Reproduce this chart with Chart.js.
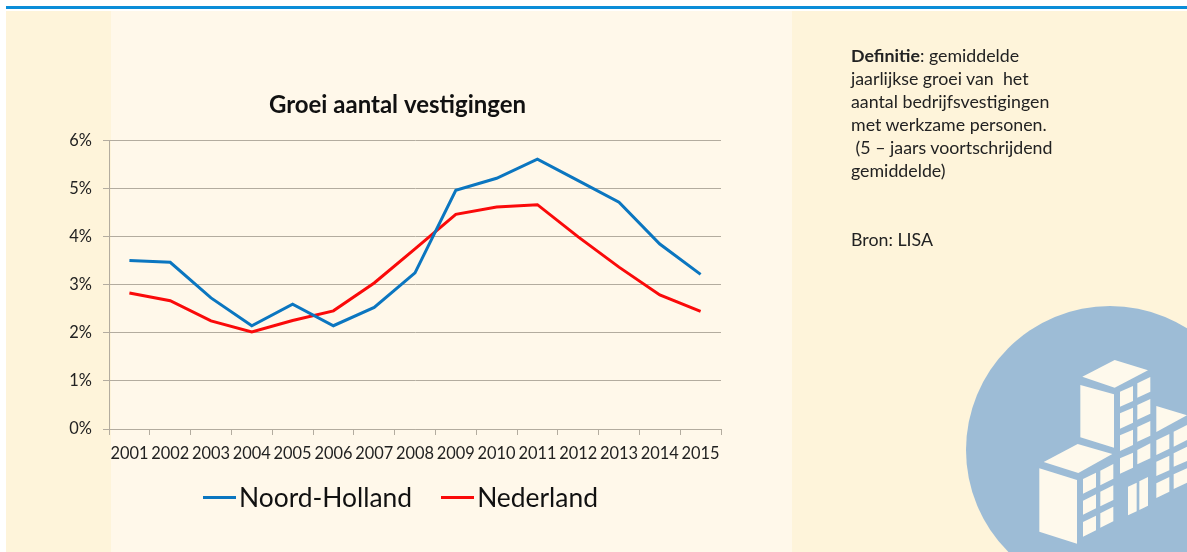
<!DOCTYPE html>
<html lang="nl">
<head>
<meta charset="utf-8">
<title>Groei aantal vestigingen</title>
<script src="https://cdn.jsdelivr.net/npm/chart.js@4/dist/chart.umd.min.js"></script>
<style>
  html, body { margin: 0; padding: 0; background: #fff; }
  #page { position: relative; width: 1187px; height: 552px; overflow: hidden; font-family: Lato, sans-serif; }
  .topline { position: absolute; left: 6px; right: 0; top: 6px; height: 3px; background: #0a8dd8; }
  .strip { position: absolute; top: 11px; bottom: 0; }
  .side { background: #fef4da; }
  .mid { left: 111px; width: 681px; background: #fff8ea; }
  #chart { position: absolute; left: 0; top: 0; }
  #legend { position: absolute; left: 203px; top: 480px; height: 34px; display: flex; align-items: center; gap: 29px; font-size: 26.4px; color: #111; }
  #legend .item { display: flex; align-items: center; gap: 3px; }
  #legend .swatch { width: 33px; height: 3px; }
  #note { position: absolute; left: 851px; top: 44px; width: 300px; font-size: 17.8px; line-height: 23px; color: #222; }
  #note p { margin: 0; }
  #note .bron { margin-top: 46px; }
  #icon { position: absolute; left: 950px; top: 290px; }
</style>
</head>
<body>
<div id="page">
  <div class="topline"></div>
  <div class="strip side" style="left:6px;right:0"></div>
  <div class="strip mid"></div>
  <svg id="icon" width="237" height="262" viewBox="0 0 711 786">
    <circle cx="480" cy="480" r="432" fill="#9dbcd6"/>
    <g fill="#fef9ec">
      <polygon points="397,260 494,210 594,241 494,293"/>
      <polygon points="391,285 492,313 492,473 391,442"/>
      <polygon points="510,305 549,288 549,333 510,350"/>
      <polygon points="562,280 601,261 601,305 562,323"/>
      <polygon points="510,370 549,353 549,398 510,416"/>
      <polygon points="562,345 601,327 601,371 562,389"/>
      <polygon points="510,436 549,419 549,465 510,483"/>
      <polygon points="562,411 601,393 601,437 562,455"/>
      <polygon points="510,505 549,488 549,533 510,551"/>
      <polygon points="562,480 601,460 601,505 562,523"/>
      <polygon points="534,590 560,578 560,664 534,676"/>
      <polygon points="568,574 594,561 594,647 568,660"/>
      <polygon points="619,348 711,376 619,426"/>
      <polygon points="619,451 658,432 658,476 619,495"/>
      <polygon points="671,425 711,405 711,450 671,470"/>
      <polygon points="619,515 658,497 658,541 619,558"/>
      <polygon points="671,490 711,470 711,513 671,530"/>
      <polygon points="619,580 658,561 658,605 619,624"/>
      <polygon points="671,553 711,535 711,578 671,597"/>
      <polygon points="281,516 383,462 487,492 385,549"/>
      <polygon points="268,535 381,570 381,761 268,725"/>
      <polygon points="399,567 438,548 438,592 399,611"/>
      <polygon points="451,542 490,522 490,566 451,586"/>
      <polygon points="399,632 438,613 438,655 399,674"/>
      <polygon points="451,605 490,586 490,630 451,649"/>
      <polygon points="399,696 438,677 438,721 399,740"/>
      <polygon points="451,670 490,650 490,694 451,713"/>
    </g>
  </svg>
  <canvas id="chart" width="1187" height="552"></canvas>
  <div id="legend"></div>
  <div id="note">
    <p><b>Definitie</b>: gemiddelde</p>
    <p>jaarlijkse groei van&nbsp; het</p>
    <p>aantal bedrijfsvestigingen</p>
    <p>met werkzame personen.</p>
    <p>&nbsp;(5 – jaars voortschrijdend</p>
    <p>gemiddelde)</p>
    <p class="bron">Bron: LISA</p>
  </div>
</div>
<script>
  const years = ['2001','2002','2003','2004','2005','2006','2007','2008','2009','2010','2011','2012','2013','2014','2015'];
  const noordHolland = [3.51, 3.47, 2.73, 2.15, 2.60, 2.15, 2.53, 3.25, 4.97, 5.22, 5.62, 5.17, 4.72, 3.85, 3.22];
  const nederland = [2.83, 2.67, 2.25, 2.02, 2.26, 2.46, 3.04, 3.75, 4.47, 4.62, 4.67, 4.00, 3.37, 2.79, 2.45];

  const font = 'Lato, sans-serif';
  const axisColor = '#b3ac9f';

  // y labels hang out left of the narrow axis box, so stop them being clipped
  const unclipYLabels = {
    id: 'unclipYLabels',
    afterLayout: c => { c.scales.y.left = 40; }
  };

  const chart = new Chart(document.getElementById('chart'), {
    type: 'line',
    plugins: [unclipYLabels],
    data: {
      labels: years,
      datasets: [
        { label: 'Noord-Holland', data: noordHolland, borderColor: '#0b76c0', backgroundColor: '#0b76c0', borderWidth: 3, pointRadius: 0, tension: 0 },
        { label: 'Nederland', data: nederland, borderColor: '#fa0a0a', backgroundColor: '#fa0a0a', borderWidth: 3, pointRadius: 0, tension: 0 }
      ]
    },
    options: {
      responsive: false,
      animation: false,
      // left padding shifts the centred title over the plot, y axis width makes up the rest
      layout: { padding: { left: 74, right: 466, top: 91, bottom: 73 } },
      plugins: {
        tooltip: { enabled: false },
        legend: { display: false },
        title: {
          display: true,
          text: 'Groei aantal vestigingen',
          color: '#111',
          font: { family: font, size: 24, weight: 'bold' },
          padding: { top: 0, bottom: 21 }
        }
      },
      scales: {
        x: {
          offset: true,
          border: { color: axisColor },
          grid: { offset: true, drawOnChartArea: false, color: axisColor, tickLength: 6 },
          ticks: { color: '#222', font: { family: font, size: 16.4 }, maxRotation: 0, autoSkip: false, padding: 9 },
          afterFit: s => { s.height = 50; }
        },
        y: {
          min: 0,
          max: 6,
          border: { color: axisColor },
          grid: { color: axisColor, tickLength: 6 },
          ticks: { stepSize: 1, color: '#222', font: { family: font, size: 16.4 }, padding: 11, callback: v => v + '%' },
          afterFit: s => { s.width = 35; }
        }
      }
    }
  });

  // legend in html: the built-in one keeps too wide a gap between line and text
  const legendEl = document.getElementById('legend');
  chart.data.datasets.forEach(ds => {
    const item = document.createElement('div');
    item.className = 'item';
    const swatch = document.createElement('span');
    swatch.className = 'swatch';
    swatch.style.background = ds.borderColor;
    const label = document.createElement('span');
    label.textContent = ds.label;
    item.append(swatch, label);
    legendEl.append(item);
  });
</script>
</body>
</html>
